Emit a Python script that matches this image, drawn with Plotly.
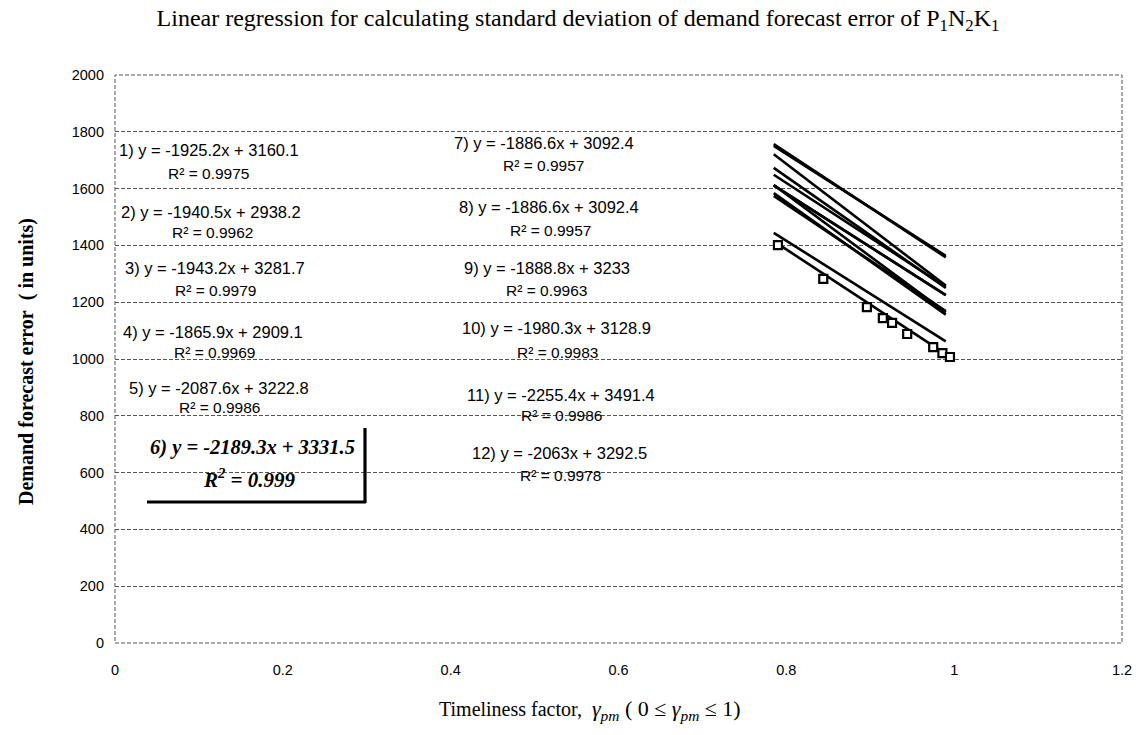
import plotly.graph_objects as go

# ---------------- data ----------------
line_ids = ["1", "2", "3", "4", "5", "6", "7", "8", "9", "10", "11", "12"]
slope_txt = ["-1925.2", "-1940.5", "-1943.2", "-1865.9", "-2087.6", "-2189.3",
             "-1886.6", "-1886.6", "-1888.8", "-1980.3", "-2255.4", "-2063"]
intercept_txt = ["3160.1", "2938.2", "3281.7", "2909.1", "3222.8", "3331.5",
                 "3092.4", "3092.4", "3233", "3128.9", "3491.4", "3292.5"]
r_squared = ["0.9975", "0.9962", "0.9979", "0.9969", "0.9986", "0.999",
             "0.9957", "0.9957", "0.9963", "0.9983", "0.9986", "0.9978"]

# trendline ends (consistent with the printed equations)
trend_x = [0.785, 0.99]
trend_start_y = [1648.8, 1414.9, 1756.3, 1444.4, 1584.0, 1612.9,
                 1611.4, 1611.4, 1750.3, 1574.4, 1720.9, 1673.0]
trend_end_y = [1254.1, 1017.1, 1357.9, 1061.9, 1156.1, 1164.1,
               1224.7, 1224.7, 1363.1, 1168.4, 1258.6, 1250.1]

# observed points (series 2, square markers)
obs_x = [0.79, 0.844, 0.896, 0.915, 0.926, 0.944, 0.975, 0.986, 0.995]
obs_y = [1401, 1282, 1183, 1144, 1127, 1088, 1042, 1021, 1007]

x_ticks = [0, 0.2, 0.4, 0.6, 0.8, 1.0, 1.2]
x_ticktext = ["0", "0.2", "0.4", "0.6", "0.8", "1", "1.2"]
y_ticks = [0, 200, 400, 600, 800, 1000, 1200, 1400, 1600, 1800, 2000]

# ---------------- layout geometry ----------------
W, H = 1144, 735
ML, MR, MT, MB = 115, 22, 75, 92
PW = W - ML - MR
PH = H - MT - MB


def ppx(px):
    return (px - ML) / PW


def ppy(py):
    return (H - MB - py) / PH


fig = go.Figure()

for i in range(len(line_ids)):
    fig.add_trace(go.Scatter(
        x=trend_x, y=[trend_start_y[i], trend_end_y[i]],
        mode="lines", line=dict(color="black", width=2.6),
        showlegend=False, hoverinfo="skip"))

fig.add_trace(go.Scatter(
    x=obs_x, y=obs_y, mode="markers",
    marker=dict(symbol="square", size=8, color="white",
                line=dict(color="black", width=2.2)),
    showlegend=False))

# ---------------- equation labels ----------------
SANS = "Liberation Sans, Arial, sans-serif"
SERIF = "Liberation Serif, Times New Roman, serif"

eq_pos = {  # (left px, centre py) of equation line, (centre px, py) of R2 line
    0: ((117, 150), (208, 173)),
    1: ((119, 212), (212, 233)),
    2: ((123, 268), (215, 290)),
    3: ((121, 332), (214, 352)),
    4: ((127, 388), (219, 407)),
    6: ((452, 143), (543, 166)),
    7: ((457, 207), (550, 230)),
    8: ((462, 268), (546, 290)),
    9: ((460, 328), (557, 352)),
    10: ((465, 395), (561, 415)),
    11: ((470, 453), (560, 475)),
}
annotations = []
for i, ((ex, ey), (rx, ry)) in eq_pos.items():
    annotations.append(dict(
        x=ppx(ex), y=ppy(ey), xref="paper", yref="paper", xanchor="left",
        yanchor="middle", showarrow=False,
        text=f"{line_ids[i]}) y = {slope_txt[i]}x + {intercept_txt[i]}",
        font=dict(family=SANS, size=16.5, color="black")))
    annotations.append(dict(
        x=ppx(rx), y=ppy(ry), xref="paper", yref="paper", xanchor="center",
        yanchor="middle", showarrow=False,
        text=f"R² = {r_squared[i]}",
        font=dict(family=SANS, size=15.5, color="black")))

# highlighted equation 6
annotations.append(dict(
    x=ppx(148), y=ppy(447), xref="paper", yref="paper", xanchor="left",
    yanchor="middle", showarrow=False,
    text=f"<b><i>6) y = {slope_txt[5]}x + {intercept_txt[5]}</i></b>",
    font=dict(family=SERIF, size=20.5, color="black")))
annotations.append(dict(
    x=ppx(249), y=ppy(478), xref="paper", yref="paper", xanchor="center",
    yanchor="middle", showarrow=False,
    text=f"<b><i>R<sup>2</sup> = {r_squared[5]}</i></b>",
    font=dict(family=SERIF, size=21, color="black")))

# axis titles
annotations.append(dict(
    x=ppx(590), y=ppy(710), xref="paper", yref="paper",
    xanchor="center", yanchor="middle", showarrow=False,
    text=("Timeliness factor,&nbsp; "
          "<span style='font-size:22px'><i>γ</i><sub><i>pm</i></sub>"
          "&nbsp;( 0 ≤ <i>γ</i><sub><i>pm</i></sub>&nbsp;≤ 1)</span>"),
    font=dict(family=SERIF, size=20, color="black")))
annotations.append(dict(
    x=ppx(27), y=ppy(362), xref="paper", yref="paper",
    xanchor="center", yanchor="middle", showarrow=False, textangle=-90,
    text="<b>Demand forecast error&nbsp;&nbsp;( in units)</b>",
    font=dict(family=SERIF, size=20, color="black")))

shapes = [
    dict(type="rect", xref="paper", yref="paper", x0=0, y0=0, x1=1, y1=1,
         line=dict(color="#555", width=1, dash="4px,2px"), layer="below"),
    dict(type="line", xref="paper", yref="paper", x0=ppx(147), x1=ppx(366),
         y0=ppy(502), y1=ppy(502), line=dict(color="black", width=3.2)),
    dict(type="line", xref="paper", yref="paper", x0=ppx(365), x1=ppx(365),
         y0=ppy(428), y1=ppy(503), line=dict(color="black", width=3.2)),
]

fig.update_layout(
    width=W, height=H,
    margin=dict(l=ML, r=MR, t=MT, b=MB),
    paper_bgcolor="white", plot_bgcolor="white",
    title=dict(
        text="Linear regression for calculating standard deviation of demand forecast error of P<sub>1</sub>N<sub>2</sub>K<sub>1</sub>",
        x=578 / W, xref="container", y=1 - 18 / H, yref="container",
        xanchor="center", yanchor="middle",
        font=dict(family=SERIF, size=24, color="black")),
    xaxis=dict(range=[0, 1.2], tickvals=x_ticks, ticktext=x_ticktext,
               showgrid=False, zeroline=False, showline=False, ticks="",
               ticklabelstandoff=16,
               tickfont=dict(family=SANS, size=14.5, color="black")),
    yaxis=dict(range=[0, 2000], tickvals=y_ticks, showgrid=True,
               gridcolor="#555", gridwidth=1, griddash="4px,2px",
               zeroline=False, showline=False, ticks="",
               ticklabelstandoff=10,
               tickfont=dict(family=SANS, size=14.5, color="black")),
    annotations=annotations,
    shapes=shapes,
)

fig.write_html("out.html")
